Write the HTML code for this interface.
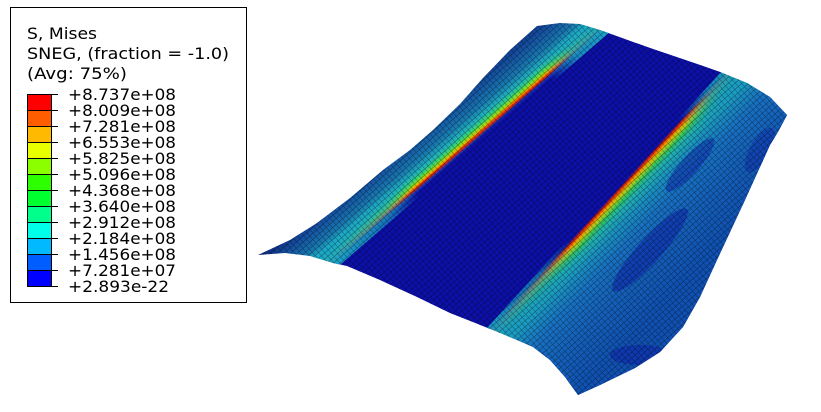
<!DOCTYPE html>
<html><head><meta charset="utf-8"><style>
html,body{margin:0;padding:0;background:#fff;}
svg{display:block;}
text{font-family:"DejaVu Sans","Liberation Sans",sans-serif;font-size:16px;fill:#000;}
</style></head><body>
<svg width="821" height="412" viewBox="0 0 821 412" xmlns="http://www.w3.org/2000/svg">
<defs>
<clipPath id="sh">
<polygon points="258,255 290,240 317,223 350,198 383,170 410,150 433,130 460,104 483,78 510,50 537,26 560,23 580,24 600,30 650,48 700,65 720,72 747,83 770,97 787,115 778,132 770,145 745,200 717,260 700,297 683,327 660,352 635,368 600,385 578,395 565,377 550,360 533,347 517,340 493,330 450,313 417,297 380,280 347,266 333,263 310,256 285,253"/>
</clipPath>
<linearGradient id="gl" gradientUnits="userSpaceOnUse" x1="232.5" y1="269.1" x2="282" y2="326.4">
<stop offset="0" stop-color="#0a1860"/>
<stop offset="0.1" stop-color="#0d2a80"/>
<stop offset="0.3" stop-color="#1550a0"/>
<stop offset="0.5" stop-color="#1878b0"/>
<stop offset="0.62" stop-color="#20b0c0"/>
<stop offset="0.68" stop-color="#30d080"/>
<stop offset="0.72" stop-color="#80e020"/>
<stop offset="0.75" stop-color="#f0b000"/>
<stop offset="0.78" stop-color="#e82000"/>
<stop offset="0.81" stop-color="#1030c0"/>
<stop offset="0.84" stop-color="#0c10a8"/>
<stop offset="1" stop-color="#0c10a8"/>
</linearGradient>
<linearGradient id="gr" gradientUnits="userSpaceOnUse" x1="428.2" y1="390.7" x2="512.9" y2="468">
<stop offset="0" stop-color="#0c10a8"/>
<stop offset="0.035" stop-color="#0c10a8"/>
<stop offset="0.053" stop-color="#e02000"/>
<stop offset="0.076" stop-color="#f0a000"/>
<stop offset="0.1" stop-color="#a0d020"/>
<stop offset="0.13" stop-color="#30c060"/>
<stop offset="0.176" stop-color="#20b0b0"/>
<stop offset="0.265" stop-color="#1a90c0"/>
<stop offset="0.41" stop-color="#1870c0"/>
<stop offset="0.65" stop-color="#1460b8"/>
<stop offset="1" stop-color="#1050b0"/>
</linearGradient>
<linearGradient id="fl" gradientUnits="userSpaceOnUse" x1="340" y1="262" x2="600" y2="30">
<stop offset="0" stop-color="#1ca8c8" stop-opacity="0.95"/>
<stop offset="0.2" stop-color="#1ca8c8" stop-opacity="0.6"/>
<stop offset="0.3" stop-color="#1ca8c8" stop-opacity="0"/>
<stop offset="0.8" stop-color="#1ca8c8" stop-opacity="0"/>
<stop offset="0.9" stop-color="#1ca8c8" stop-opacity="0.8"/>
<stop offset="1" stop-color="#1ca8c8" stop-opacity="0.95"/>
</linearGradient>
<linearGradient id="fr" gradientUnits="userSpaceOnUse" x1="500" y1="330" x2="725" y2="70">
<stop offset="0" stop-color="#1a9cc4" stop-opacity="0.95"/>
<stop offset="0.2" stop-color="#1a9cc4" stop-opacity="0.6"/>
<stop offset="0.33" stop-color="#1a9cc4" stop-opacity="0"/>
<stop offset="0.8" stop-color="#1a9cc4" stop-opacity="0"/>
<stop offset="0.92" stop-color="#1a9cc4" stop-opacity="0.8"/>
<stop offset="1" stop-color="#1a9cc4" stop-opacity="0.95"/>
</linearGradient>
<pattern id="mesh" patternUnits="userSpaceOnUse" width="4.5" height="4.5" patternTransform="rotate(-42)">
<path d="M0,0 H4.5 M0,0 V4.5" stroke="#000" stroke-width="0.9" fill="none"/>
</pattern>
</defs>
<g clip-path="url(#sh)">
<rect x="240" y="0" width="560" height="412" fill="url(#gl)"/>
<polygon points="660,0 821,0 821,412 430,412" fill="url(#gr)"/>
<polygon points="298,270 334,270 647,0 611,0" fill="url(#fl)"/>
<polygon points="476,340 511,340 767,60 732,60" fill="url(#fr)"/>
<ellipse cx="650" cy="250" rx="12" ry="55" fill="#0c20a8" opacity="0.55" transform="rotate(42 650 250)"/>
<ellipse cx="690" cy="165" rx="9" ry="35" fill="#0c20a8" opacity="0.5" transform="rotate(42 690 165)"/>
<ellipse cx="640" cy="355" rx="30" ry="10" fill="#0c20a8" opacity="0.5"/>
<ellipse cx="760" cy="150" rx="10" ry="25" fill="#0c20a8" opacity="0.4" transform="rotate(30 760 150)"/>
<rect x="240" y="0" width="560" height="412" fill="url(#mesh)" opacity="0.5"/>
</g>
<rect x="10.5" y="7.5" width="236" height="295" fill="none" stroke="#000" stroke-width="1"/>
<text x="27" y="39" textLength="70" lengthAdjust="spacingAndGlyphs">S, Mises</text>
<text x="27" y="59" textLength="202" lengthAdjust="spacingAndGlyphs">SNEG, (fraction = -1.0)</text>
<text x="27" y="79" textLength="100" lengthAdjust="spacingAndGlyphs">(Avg: 75%)</text>
<g stroke="#000" stroke-width="1">
<rect x="27.5" y="94.5" width="24" height="16" fill="#ff0000"/>
<rect x="27.5" y="110.5" width="24" height="16" fill="#ff5d00"/>
<rect x="27.5" y="126.5" width="24" height="16" fill="#ffb900"/>
<rect x="27.5" y="142.5" width="24" height="16" fill="#e8ff00"/>
<rect x="27.5" y="158.5" width="24" height="16" fill="#8bff00"/>
<rect x="27.5" y="174.5" width="24" height="16" fill="#2eff00"/>
<rect x="27.5" y="190.5" width="24" height="16" fill="#00ff2e"/>
<rect x="27.5" y="206.5" width="24" height="16" fill="#00ff8b"/>
<rect x="27.5" y="222.5" width="24" height="16" fill="#00ffe8"/>
<rect x="27.5" y="238.5" width="24" height="16" fill="#00b9ff"/>
<rect x="27.5" y="254.5" width="24" height="16" fill="#005dff"/>
<rect x="27.5" y="270.5" width="24" height="16" fill="#0000ff"/>
<path d="M51,94.5h7M51,110.5h7M51,126.5h7M51,142.5h7M51,158.5h7M51,174.5h7M51,190.5h7M51,206.5h7M51,222.5h7M51,238.5h7M51,254.5h7M51,270.5h7M51,286.5h7"/>
</g>
<g font-size="17">
<text x="68" y="100" textLength="108" lengthAdjust="spacingAndGlyphs">+8.737e+08</text>
<text x="68" y="116" textLength="108" lengthAdjust="spacingAndGlyphs">+8.009e+08</text>
<text x="68" y="132" textLength="108" lengthAdjust="spacingAndGlyphs">+7.281e+08</text>
<text x="68" y="148" textLength="108" lengthAdjust="spacingAndGlyphs">+6.553e+08</text>
<text x="68" y="164" textLength="108" lengthAdjust="spacingAndGlyphs">+5.825e+08</text>
<text x="68" y="180" textLength="108" lengthAdjust="spacingAndGlyphs">+5.096e+08</text>
<text x="68" y="196" textLength="108" lengthAdjust="spacingAndGlyphs">+4.368e+08</text>
<text x="68" y="212" textLength="108" lengthAdjust="spacingAndGlyphs">+3.640e+08</text>
<text x="68" y="228" textLength="108" lengthAdjust="spacingAndGlyphs">+2.912e+08</text>
<text x="68" y="244" textLength="108" lengthAdjust="spacingAndGlyphs">+2.184e+08</text>
<text x="68" y="260" textLength="108" lengthAdjust="spacingAndGlyphs">+1.456e+08</text>
<text x="68" y="276" textLength="108" lengthAdjust="spacingAndGlyphs">+7.281e+07</text>
<text x="68" y="292" textLength="101" lengthAdjust="spacingAndGlyphs">+2.893e-22</text>
</g>
</svg>
</body></html>
